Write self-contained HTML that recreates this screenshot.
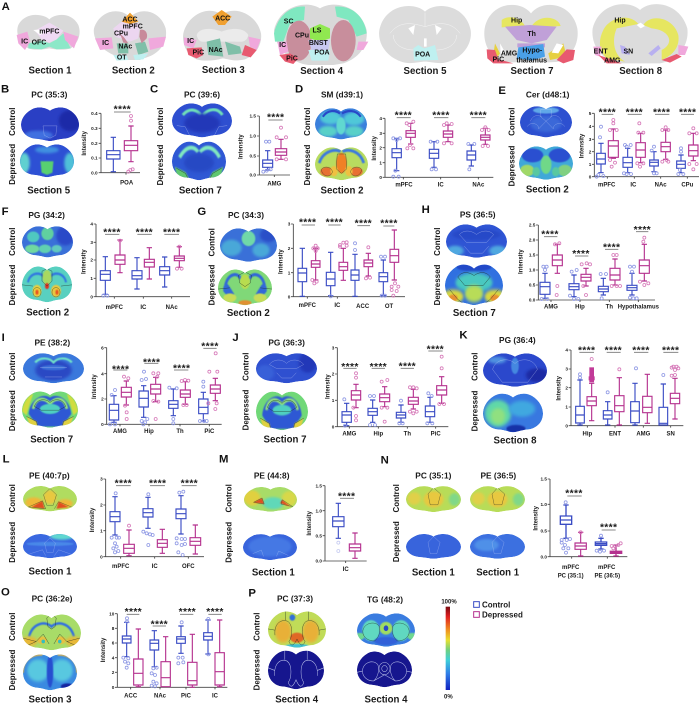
<!DOCTYPE html>
<html><head><meta charset="utf-8"><title>Lipid imaging figure</title>
<style>
html,body{margin:0;padding:0;background:#fff;width:700px;height:703px;overflow:hidden}
svg{display:block;font-family:"Liberation Sans",sans-serif}
text{font-weight:bold;fill:#1a1a1a;text-anchor:middle}
.L{font-size:34px;text-anchor:start;fill:#111}
.S{font-size:29px}
.T{font-size:25px}
.R{font-size:24px}
.X{font-size:18px}
.Y{font-size:14px;text-anchor:end}
.I{font-size:18px}
.A{font-size:31px;letter-spacing:1px}
.N{font-size:21px;fill:#111}
.b path,.m path{fill:none;stroke-width:3.4}
.b path{stroke:#3a4cc4}.m path{stroke:#b5328f}
.b circle,.m circle{r:4.5px;fill:none;stroke-width:2.4}
.b circle{stroke:#8d97e4}.m circle{stroke:#d678b8}
.x{fill:none;stroke:#444;stroke-width:2.6}
.l{fill:none;stroke:#888;stroke-width:3}
.w{fill:none;stroke:#dfe6ff;stroke-width:.5;opacity:.8}
.k{fill:none;stroke:#1c2a20;stroke-width:.6}
.q{fill:none;stroke:#f4f4f4;stroke-width:1.5}
</style></head><body>
<svg width="700" height="703" viewBox="0 0 700 703" xmlns="http://www.w3.org/2000/svg">
<defs>
<path id="s" d="M50 8C58 2 72 0 82 6C95 13 100 24 100 32C100 46 88 55 74 56C62 57 56 60 50 60C44 60 38 57 26 56C12 55 0 46 0 32C0 24 5 13 18 6C28 0 42 2 50 8Z"/>
<clipPath id="c"><use href="#s"/></clipPath>
<filter id="f" x="-30%" y="-30%" width="160%" height="160%"><feGaussianBlur stdDeviation="2.5"/></filter>
<filter id="g" x="-30%" y="-30%" width="160%" height="160%"><feGaussianBlur stdDeviation="1"/></filter>
<linearGradient id="cb" x1="0" y1="0" x2="0" y2="1"><stop offset="0" stop-color="#7a0a10"/><stop offset=".12" stop-color="#e02020"/><stop offset=".28" stop-color="#f09020"/><stop offset=".4" stop-color="#e8e030"/><stop offset=".52" stop-color="#70d080"/><stop offset=".64" stop-color="#40d0d8"/><stop offset=".8" stop-color="#3080e8"/><stop offset="1" stop-color="#1020c0"/></linearGradient>
</defs>

<!-- Section A atlas -->
<g transform="scale(.33333)">
<text class="L" x="5" y="30">A</text>
<path fill="#d9d9d9" d="M148 58C165 40 215 35 235 75C245 100 235 130 212 145C190 152 165 148 148 145C130 148 105 152 85 145C60 130 45 100 55 75C75 35 130 40 148 58Z"/>
<path fill="#8ce8c8" d="M85 130L125 122L148 130L170 118L190 100L212 145L170 148L148 140L125 148L85 145Z"/>
<path fill="#efd9f3" d="M148 68L190 92L170 118L148 128L125 118L105 92Z"/>
<path fill="#fff" d="M100 90L125 88L130 100L120 105Z"/>
<path fill="#f0a8dc" d="M50 105L82 95L90 125L75 150L55 130ZM190 95L235 110L222 145L195 120Z"/>
<text class="N" x="148" y="100">mPFC</text><text class="N" x="74" y="130">IC</text><text class="N" x="117" y="133">OFC</text>
<text class="S" x="150" y="221">Section 1</text>

<path fill="#d9d9d9" d="M390 52C420 20 480 30 497 85C505 130 475 165 430 175L420 180L380 180L370 175C325 165 275 130 282 85C300 30 360 20 390 52Z"/>
<path fill="#ecd6f0" d="M365 65L420 70L415 115L390 125L345 110L340 85Z"/>
<path fill="#f0a030" d="M390 38L415 65L390 72L365 65Z"/>
<path fill="#f0a8dc" d="M285 115L335 112L340 145L300 150ZM445 115L498 110L490 140L450 150Z"/>
<path fill="#7fbfa8" d="M350 130L385 130L385 160L355 160ZM405 130L435 125L445 155L415 165Z"/>
<path fill="#bff0f0" d="M340 165L380 165L385 180L350 182ZM400 165L445 160L430 178L405 180Z"/>
<path fill="#c88a9a" d="M420 90C435 85 445 100 440 115L425 130L418 110ZM360 100L372 112L385 130L370 128Z"/>
<text class="N" x="390" y="65">ACC</text><text class="N" x="398" y="85">mPFC</text><text class="N" x="363" y="106">CPu</text><text class="N" x="317" y="135">IC</text><text class="N" x="376" y="146">NAc</text><text class="N" x="365" y="179">OT</text>
<text class="S" x="400" y="221">Section 2</text>

<path fill="#d9d9d9" d="M665 45C700 15 770 40 783 100C787 130 770 165 735 178C700 185 690 178 668 175C640 182 615 185 590 178C560 165 545 130 550 100C565 40 630 15 665 45Z"/>
<path fill="#ebebeb" d="M590 105C600 80 640 85 665 95C690 85 730 80 745 105C740 130 720 125 705 125L630 125C610 125 595 130 590 105Z"/>
<path fill="#f0a030" d="M665 30L695 50L675 75L655 75L637 50Z"/>
<path fill="#f0a8dc" d="M552 112L590 120L580 145L552 135ZM745 110L782 118L770 150L750 140Z"/>
<path fill="#e85a70" d="M560 145L605 142L610 165L590 175L565 165ZM735 135L770 150L752 172L725 165Z"/>
<path fill="#7fbfa8" d="M620 125L660 115L670 170L625 165ZM675 125L720 140L725 160L685 165Z"/>
<text class="N" x="668" y="62">ACC</text><text class="N" x="572" y="129">IC</text><text class="N" x="595" y="164">PiC</text><text class="N" x="647" y="156">NAc</text>
<text class="S" x="670" y="219">Section 3</text>

<path fill="#d9d9d9" d="M960 25C1000 0 1080 15 1100 90C1105 140 1075 175 1030 190L1000 195L925 195C880 190 825 150 822 90C840 15 920 0 960 25Z"/>
<path fill="#7fe8c0" d="M822 100C835 40 880 15 915 20L912 60L870 70L850 125L825 125ZM1005 20C1060 15 1095 55 1100 100L1070 110L1045 60L1010 50Z"/>
<ellipse cx="897" cy="122" rx="38" ry="60" fill="#c88e9c"/><ellipse cx="1030" cy="122" rx="37" ry="62" fill="#c88e9c"/>
<path fill="#90e850" d="M930 85L960 72L990 85L990 115L960 125L930 115Z"/>
<path fill="#c8c8f0" d="M925 120L990 120L985 150L935 150Z"/>
<path fill="#bff0f0" d="M925 150L990 150L985 182L935 182Z"/>
<path fill="#f0a8dc" d="M832 125L860 125L865 155L840 165ZM1075 125L1105 125L1090 150L1070 150Z"/>
<path fill="#e85a70" d="M838 165L870 160L895 175L880 192L855 185Z"/>
<text class="N" x="866" y="70">SC</text><text class="N" x="906" y="113">CPu</text><text class="N" x="951" y="97">LS</text><text class="N" x="848" y="141">IC</text><text class="N" x="955" y="135">BNST</text><text class="N" x="966" y="164">POA</text><text class="N" x="876" y="181">PiC</text>
<text class="S" x="965" y="222">Section 4</text>
</g>

<g transform="translate(350,0) scale(.33333)">
<path fill="#dcdcdc" d="M225 35C255 5 345 10 362 90C368 130 340 175 285 188C265 192 240 185 225 185C210 185 185 192 165 188C110 175 82 130 88 90C105 10 195 5 225 35Z"/>
<path class="q" d="M120 100C150 60 190 70 225 80C260 70 300 60 330 100M130 105C130 140 170 150 190 150M320 105C320 140 280 150 260 150M225 38V80"/>
<path fill="#bff0f0" d="M190 145L205 135L222 145L240 140L255 135L265 180L192 182Z"/>
<path fill="#fff" d="M175 85L195 75L190 105ZM275 85L255 75L260 105ZM222 115h8v25h-8Z"/>
<text class="N" x="218" y="170">POA</text>
<text class="S" x="225" y="222">Section 5</text>

<path fill="#dcdcdc" d="M543 40C575 -2 665 5 682 85C688 125 670 170 625 185C590 190 560 185 543 180C525 185 495 190 460 185C415 170 398 125 404 85C420 5 510 -2 543 40Z"/>
<path fill="#e6e660" d="M455 60C475 45 510 50 525 78L455 82ZM545 78C570 40 625 50 632 78L560 82Z"/>
<path fill="#c0a0d8" d="M465 80L540 75L620 80L590 120L545 130L500 120Z"/>
<path fill="#c0a0d8" d="M502 130H585V142H502Z"/>
<path fill="#4aa0e8" d="M505 142L580 132L585 170L545 182L500 175Z"/>
<path fill="#e6d040" d="M435 130L450 160L440 175L432 150ZM640 130L650 170L600 180L595 160Z"/>
<path fill="#e85a70" d="M410 148L435 150L445 178L490 190L430 190L412 175ZM620 180L650 148L675 150L670 180L640 190Z"/>
<path fill="#fff" d="M450 130L470 165L452 162ZM620 130L640 135L625 160L605 158Z"/>
<text class="N" x="500" y="68">Hip</text><text class="N" x="545" y="108">Th</text><text class="N" x="547" y="158">Hypo-</text><text class="N" x="545" y="187">thalamus</text><text class="N" x="477" y="167">AMG</text><text class="N" x="445" y="184">PiC</text>
<text class="S" x="546" y="222">Section 7</text>

<path fill="#dcdcdc" d="M870 30C905 -3 990 8 1012 85C1018 130 990 180 930 190L810 190C750 180 722 130 728 85C748 8 835 -3 870 30Z"/>
<path fill="#e6e660" d="M760 90C780 50 840 40 865 72L800 85C785 120 790 165 825 185L770 175C745 150 745 120 760 90ZM880 75C900 40 970 50 985 105C990 140 970 165 935 180L935 150C975 130 960 90 905 85Z"/>
<path fill="#fff" d="M860 75L872 68L885 78L872 85Z"/>
<path fill="#b8b0f0" d="M810 135L825 140L840 165L815 160ZM895 160L925 135L932 145L905 168Z"/>
<path fill="#f0a8dc" d="M730 140L755 140L750 170L735 165ZM985 135L1015 140L1005 165L985 165Z"/>
<path fill="#e85a70" d="M745 165L790 180L815 190L770 190ZM935 180L980 162L995 170L960 188Z"/>
<text class="N" x="810" y="68">Hip</text><text class="N" x="752" y="160">ENT</text><text class="N" x="835" y="160">SN</text><text class="N" x="787" y="187">AMG</text>
<text class="S" x="872" y="222">Section 8</text>
</g>

<!-- Brain images -->
<!-- B -->
<g transform="translate(21,106) scale(.58,.585)" clip-path="url(#c)"><use href="#s" fill="#2a3fc4"/><ellipse cx="85" cy="25" rx="20" ry="18" fill="#1c2aa8" filter="url(#f)"/><ellipse cx="30" cy="50" rx="25" ry="8" fill="#3f6fe0" filter="url(#f)"/><path class="w" d="M38 34L62 34L60 50L50 55L40 50Z"/></g>
<g transform="translate(20,143) scale(.54,.57)" clip-path="url(#c)"><use href="#s" fill="#2d50d4"/><ellipse cx="8" cy="35" rx="10" ry="18" fill="#60d0d0" filter="url(#f)"/><ellipse cx="92" cy="35" rx="10" ry="18" fill="#50c0d8" filter="url(#f)"/><path d="M38 32L62 32L60 52L50 56L40 52Z" fill="#58d070" filter="url(#g)"/><ellipse cx="50" cy="12" rx="22" ry="6" fill="#4090e0" filter="url(#f)"/></g>
<!-- C -->
<g transform="translate(172,102) scale(.6,.59)" clip-path="url(#c)"><use href="#s" fill="#2e4fd0"/><path d="M18 22C30 8 42 14 48 22M52 22C60 12 75 8 84 22" fill="none" stroke="#70e0b8" stroke-width="5" filter="url(#g)"/><ellipse cx="50" cy="36" rx="30" ry="16" fill="#2438b8" filter="url(#f)"/><path class="w" d="M8 40L22 42L30 58M92 40L78 42L70 58"/></g>
<g transform="translate(172,140) scale(.54,.67)" clip-path="url(#c)"><use href="#s" fill="#2f58d4"/><path d="M14 26C28 6 42 10 48 18M52 18C60 10 75 6 88 26" fill="none" stroke="#80e8c0" stroke-width="6" filter="url(#g)"/><ellipse cx="50" cy="34" rx="28" ry="14" fill="#2848c4" filter="url(#f)"/><path d="M5 40L25 48L32 58L10 55ZM95 40L75 48L68 58L90 55Z" fill="#60c870" filter="url(#g)"/><path class="k" d="M8 42L25 50L30 58M92 42L75 50L70 58"/></g>
<!-- D -->
<g transform="translate(315,107) scale(.52,.54)" clip-path="url(#c)"><use href="#s" fill="#3a7fdc"/><ellipse cx="30" cy="20" rx="20" ry="12" fill="#50c8d8" filter="url(#f)"/><ellipse cx="75" cy="22" rx="20" ry="12" fill="#50c8d8" filter="url(#f)"/><ellipse cx="25" cy="45" rx="18" ry="10" fill="#58d0c8" filter="url(#f)"/><ellipse cx="75" cy="45" rx="18" ry="10" fill="#58d0c8" filter="url(#f)"/><ellipse cx="50" cy="35" rx="9" ry="16" fill="#60d8d0" filter="url(#g)"/><path d="M15 18C25 4 40 6 48 12M52 12C62 6 78 4 88 18" fill="none" stroke="#2848c8" stroke-width="4"/></g>
<g transform="translate(315,146) scale(.53,.57)" clip-path="url(#c)"><use href="#s" fill="#b8dc60"/><path d="M8 30C15 8 40 4 48 10M52 10C62 4 85 8 92 30" fill="none" stroke="#3a78e0" stroke-width="5" filter="url(#g)"/><ellipse cx="50" cy="30" rx="10" ry="18" fill="#f08028" filter="url(#g)"/><ellipse cx="22" cy="45" rx="12" ry="8" fill="#e87030" filter="url(#g)"/><ellipse cx="78" cy="45" rx="12" ry="8" fill="#e87030" filter="url(#g)"/><ellipse cx="36" cy="44" rx="7" ry="9" fill="#f0c040" filter="url(#g)"/><ellipse cx="64" cy="44" rx="7" ry="9" fill="#f0c040" filter="url(#g)"/><path class="k" d="M42 14H58L60 40L50 48L40 40ZM12 42C15 35 30 35 33 45C30 56 15 55 12 42ZM67 45C70 35 85 35 88 42C85 55 70 56 67 45Z"/></g>
<!-- E -->
<g transform="translate(520,105) scale(.52,.54)" clip-path="url(#c)"><use href="#s" fill="#2d50d0"/><ellipse cx="50" cy="10" rx="25" ry="6" fill="#60a8e8" filter="url(#g)"/><ellipse cx="50" cy="35" rx="30" ry="15" fill="#3a68d8" filter="url(#f)"/><path class="w" d="M40 8H60L60 22L50 30L40 22ZM14 40C20 30 36 34 36 44M64 44C64 34 80 30 86 40M36 44L50 30L64 44M20 30C25 18 35 18 42 22M58 22C65 18 75 18 80 30"/></g>
<g transform="translate(519,145) scale(.54,.58)" clip-path="url(#c)"><use href="#s" fill="#40a8d8"/><ellipse cx="25" cy="18" rx="20" ry="12" fill="#2a50d0" filter="url(#g)"/><ellipse cx="75" cy="18" rx="20" ry="12" fill="#2a50d0" filter="url(#g)"/><ellipse cx="50" cy="34" rx="10" ry="16" fill="#70d888" filter="url(#g)"/><ellipse cx="15" cy="44" rx="13" ry="10" fill="#a0d868" filter="url(#g)"/><ellipse cx="85" cy="44" rx="13" ry="10" fill="#80d080" filter="url(#g)"/><ellipse cx="32" cy="46" rx="7" ry="8" fill="#58c8a0" filter="url(#g)"/><ellipse cx="68" cy="46" rx="7" ry="8" fill="#58c8a0" filter="url(#g)"/></g>
<!-- F -->
<g transform="translate(22,225) scale(.51,.54)" clip-path="url(#c)"><use href="#s" fill="#3a70d8"/><ellipse cx="85" cy="20" rx="18" ry="18" fill="#2a48c8" filter="url(#f)"/><ellipse cx="50" cy="16" rx="12" ry="12" fill="#60d0a0" filter="url(#g)"/><ellipse cx="22" cy="22" rx="12" ry="10" fill="#50c8c0" filter="url(#g)"/><ellipse cx="20" cy="44" rx="14" ry="8" fill="#70d8a0" filter="url(#g)"/><ellipse cx="45" cy="44" rx="12" ry="8" fill="#60d0b0" filter="url(#g)"/><ellipse cx="68" cy="44" rx="10" ry="7" fill="#60c8c0" filter="url(#g)"/></g>
<g transform="translate(22,265) scale(.5,.62)" clip-path="url(#c)"><use href="#s" fill="#58d0c0"/><path d="M12 28C15 12 38 10 44 20M56 20C62 10 85 12 88 28" fill="none" stroke="#3078e0" stroke-width="4" filter="url(#g)"/><ellipse cx="50" cy="20" rx="9" ry="12" fill="#a8d860" filter="url(#g)"/><ellipse cx="30" cy="42" rx="9" ry="10" fill="#e8d040" filter="url(#g)"/><ellipse cx="68" cy="42" rx="10" ry="10" fill="#e8c840" filter="url(#g)"/><ellipse cx="50" cy="34" rx="4" ry="5" fill="#e03020" filter="url(#g)"/><ellipse cx="70" cy="44" rx="3" ry="4" fill="#e85020" filter="url(#g)"/><ellipse cx="30" cy="44" rx="3" ry="4" fill="#e85020" filter="url(#g)"/><path class="k" d="M40 10L50 6L60 10L60 26L50 34L40 26ZM22 44C22 34 38 34 38 44C38 54 22 54 22 44ZM60 44C60 34 76 34 76 44C76 54 60 54 60 44ZM0 32L22 34M78 34L100 32"/></g>
<!-- G -->
<g transform="translate(220,227) scale(.57,.58)" clip-path="url(#c)"><use href="#s" fill="#3a70d8"/><ellipse cx="50" cy="20" rx="12" ry="13" fill="#70d8a8" filter="url(#g)"/><ellipse cx="20" cy="36" rx="18" ry="14" fill="#48a8d8" filter="url(#f)"/><ellipse cx="72" cy="40" rx="15" ry="12" fill="#48a8d8" filter="url(#f)"/><ellipse cx="85" cy="14" rx="15" ry="12" fill="#2a50c8" filter="url(#f)"/></g>
<g transform="translate(218,268) scale(.54,.62)" clip-path="url(#c)"><use href="#s" fill="#80d878"/><path d="M14 28C18 8 38 6 42 18M58 18C62 6 82 8 86 28" fill="none" stroke="#3068d8" stroke-width="5" filter="url(#g)"/><path d="M10 38C8 28 15 22 20 28L30 42L22 50ZM90 38C92 28 85 22 80 28L70 42L78 50Z" fill="#3068d8" filter="url(#g)"/><ellipse cx="50" cy="22" rx="9" ry="12" fill="#b8dc50" filter="url(#g)"/><ellipse cx="50" cy="56" rx="12" ry="4" fill="#e09030" filter="url(#g)"/><ellipse cx="22" cy="48" rx="12" ry="7" fill="#c8dc58" filter="url(#g)"/><ellipse cx="78" cy="48" rx="12" ry="7" fill="#c8dc58" filter="url(#g)"/><path class="k" d="M38 12L50 6L62 12L60 24L50 30L40 24ZM0 34L22 32M78 32L100 34"/></g>
<!-- H -->
<g transform="translate(446,223) scale(.61,.58)" clip-path="url(#c)"><use href="#s" fill="#2f55d4"/><ellipse cx="50" cy="20" rx="40" ry="10" fill="#2848c8" filter="url(#f)"/><ellipse cx="15" cy="48" rx="14" ry="9" fill="#50a8e0" filter="url(#f)"/><ellipse cx="85" cy="48" rx="14" ry="9" fill="#50a8e0" filter="url(#f)"/><path class="w" d="M22 20C30 10 44 14 50 20C56 14 70 10 78 20L66 34L34 34ZM30 40L40 52L60 52L70 40"/></g>
<g transform="translate(445,263) scale(.58,.7)" clip-path="url(#c)"><use href="#s" fill="#3070e0"/><ellipse cx="50" cy="6" rx="30" ry="6" fill="#2048c8" filter="url(#g)"/><ellipse cx="50" cy="28" rx="32" ry="14" fill="#48c8c0" filter="url(#f)"/><ellipse cx="14" cy="48" rx="18" ry="10" fill="#d8d840" filter="url(#f)"/><ellipse cx="86" cy="48" rx="18" ry="10" fill="#d8d840" filter="url(#f)"/><ellipse cx="50" cy="44" rx="16" ry="12" fill="#b8dc58" filter="url(#f)"/><ellipse cx="14" cy="50" rx="8" ry="5" fill="#e89030" filter="url(#g)"/><ellipse cx="86" cy="50" rx="8" ry="5" fill="#e89030" filter="url(#g)"/><path class="k" d="M22 20C30 10 44 14 50 18C56 14 70 10 78 20L66 32L34 32ZM8 38L22 52L32 58M92 38L78 52L68 58"/></g>
<!-- I -->
<g transform="translate(23,352) scale(.61,.52)" clip-path="url(#c)"><use href="#s" fill="#3a78dc"/><ellipse cx="50" cy="35" rx="30" ry="20" fill="#2a48c4" filter="url(#f)"/><path d="M20 20C30 8 44 12 50 20C56 12 70 8 80 20" fill="none" stroke="#70e0c8" stroke-width="4" filter="url(#g)"/><ellipse cx="50" cy="30" rx="20" ry="5" fill="#3a70d8" filter="url(#g)"/><path class="w" d="M28 30L72 30M36 48L64 48"/></g>
<g transform="translate(22,390) scale(.56,.63)" clip-path="url(#c)"><use href="#s" fill="#70d878"/><path d="M12 38C14 14 38 4 50 12C62 4 86 14 88 38L72 58L28 58Z" fill="#2e58d4" filter="url(#g)"/><path d="M20 30C24 10 42 12 50 22C58 12 76 10 80 30" fill="none" stroke="#90e080" stroke-width="5" filter="url(#g)"/><ellipse cx="50" cy="30" rx="18" ry="8" fill="#50d0c0" filter="url(#g)"/><path d="M0 34C2 20 10 10 20 6L14 22L8 40ZM100 34C98 20 90 10 80 6L86 22L92 40Z" fill="#d0dc40" filter="url(#g)"/><path d="M8 42L26 50L28 58L14 56ZM92 42L74 50L72 58L86 56Z" fill="#e0d040" filter="url(#g)"/><path class="k" d="M22 26C28 12 44 14 50 20C56 14 72 12 78 26L66 32L34 32ZM8 42L26 50L28 58M92 42L74 50L72 58"/></g>
<!-- J -->
<g transform="translate(256,352) scale(.61,.52)" clip-path="url(#c)"><use href="#s" fill="#2f50d0"/><ellipse cx="85" cy="20" rx="15" ry="20" fill="#2438b8" filter="url(#f)"/><ellipse cx="15" cy="40" rx="15" ry="15" fill="#3860d8" filter="url(#f)"/><path class="w" d="M22 24C30 12 44 14 50 22C56 14 70 12 78 24L66 32L34 32ZM34 40L42 50L58 50L66 40"/></g>
<g transform="translate(256,390) scale(.52,.67)" clip-path="url(#c)"><use href="#s" fill="#70d878"/><path d="M12 38C14 14 38 4 50 12C62 4 86 14 88 38L72 58L28 58Z" fill="#2e58d4" filter="url(#g)"/><path d="M20 30C24 10 42 12 50 22C58 12 76 10 80 30" fill="none" stroke="#90e080" stroke-width="5" filter="url(#g)"/><ellipse cx="50" cy="30" rx="18" ry="8" fill="#50d0c0" filter="url(#g)"/><path d="M8 42L26 50L28 58L14 56ZM92 42L74 50L72 58L86 56Z" fill="#e0d040" filter="url(#g)"/><path class="k" d="M22 26C28 12 44 14 50 20C56 14 72 12 78 26L66 32L34 32ZM8 42L26 50L28 58M92 42L74 50L72 58"/></g>
<!-- K -->
<g transform="translate(483,352) scale(.64,.58)" clip-path="url(#c)"><use href="#s" fill="#2b48cc"/><ellipse cx="85" cy="40" rx="18" ry="12" fill="#1c2aa4" filter="url(#f)"/><ellipse cx="22" cy="14" rx="14" ry="6" fill="#5090e0" filter="url(#f)"/><ellipse cx="50" cy="24" rx="6" ry="14" fill="#4488e0" filter="url(#g)"/><path class="w" d="M15 30C20 10 42 10 50 20C58 10 80 10 85 30L70 52L30 52Z"/></g>
<g transform="translate(483,392) scale(.6,.67)" clip-path="url(#c)"><use href="#s" fill="#3878e0"/><ellipse cx="25" cy="32" rx="22" ry="20" fill="#60d8a8" filter="url(#f)"/><ellipse cx="25" cy="36" rx="12" ry="12" fill="#90e080" filter="url(#f)"/><ellipse cx="65" cy="25" rx="22" ry="12" fill="#40a8e0" filter="url(#f)"/><ellipse cx="55" cy="55" rx="16" ry="6" fill="#1830a8" filter="url(#g)"/></g>
<!-- L -->
<g transform="translate(23,485) scale(.54,.44)" clip-path="url(#c)"><use href="#s" fill="#b0dc60"/><ellipse cx="20" cy="40" rx="16" ry="12" fill="#f0b838" filter="url(#f)"/><ellipse cx="78" cy="42" rx="14" ry="10" fill="#f0b838" filter="url(#f)"/><path d="M16 50L36 36L40 54ZM84 50L66 38L62 54Z" fill="#e05020" filter="url(#g)"/><ellipse cx="50" cy="28" rx="12" ry="16" fill="#e8c840" filter="url(#f)"/><path class="k" d="M50 8L62 22L56 46L44 46L38 22ZM10 50L36 36L42 54ZM90 50L66 38L58 54"/></g>
<g transform="translate(23,533) scale(.54,.42)" clip-path="url(#c)"><use href="#s" fill="#3a68e0"/><ellipse cx="72" cy="8" rx="22" ry="8" fill="#60d8d0" filter="url(#f)"/><ellipse cx="50" cy="26" rx="44" ry="5" fill="#4a88e8" filter="url(#g)"/><path class="w" d="M50 12L60 24L56 46L44 46L40 24ZM12 50L36 40L42 54M88 50L66 40L58 54"/></g>
<!-- M -->
<g transform="translate(244,486) scale(.53,.43)" clip-path="url(#c)"><use href="#s" fill="#a8dc68"/><ellipse cx="15" cy="28" rx="16" ry="18" fill="#e0d040" filter="url(#f)"/><ellipse cx="85" cy="30" rx="14" ry="18" fill="#d8d848" filter="url(#f)"/><ellipse cx="55" cy="40" rx="20" ry="14" fill="#60d8b8" filter="url(#f)"/><path d="M18 38L34 28L38 42ZM88 48L72 32L68 40Z" fill="#e05020" filter="url(#g)"/><path class="k" d="M18 38L34 28L38 42ZM92 48L72 32L70 42Z"/></g>
<g transform="translate(243,533) scale(.54,.45)" clip-path="url(#c)"><use href="#s" fill="#3864dc"/><ellipse cx="50" cy="30" rx="40" ry="22" fill="#4478e4" filter="url(#f)"/><path class="w" d="M18 46L34 38L38 52M84 50L66 40L62 52"/></g>
<!-- N -->
<g transform="translate(406,485) scale(.55,.45)" clip-path="url(#c)"><use href="#s" fill="#b8dc58"/><ellipse cx="50" cy="32" rx="18" ry="18" fill="#e8c840" filter="url(#f)"/><ellipse cx="15" cy="30" rx="12" ry="14" fill="#e0d048" filter="url(#f)"/><ellipse cx="88" cy="32" rx="10" ry="14" fill="#80d888" filter="url(#f)"/><path class="k" d="M50 6L63 20L58 44L44 44L40 20Z"/></g>
<g transform="translate(470,485) scale(.55,.45)" clip-path="url(#c)"><use href="#s" fill="#b8dc58"/><ellipse cx="50" cy="32" rx="18" ry="18" fill="#e8c840" filter="url(#f)"/><ellipse cx="15" cy="30" rx="12" ry="14" fill="#e0d048" filter="url(#f)"/><ellipse cx="88" cy="32" rx="10" ry="14" fill="#80d888" filter="url(#f)"/><path class="k" d="M50 6L63 20L58 44L44 44L40 20Z"/></g>
<g transform="translate(406,533) scale(.55,.43)" clip-path="url(#c)"><use href="#s" fill="#3864dc"/><path class="w" d="M50 8L62 22L56 48L44 48L40 22Z"/></g>
<g transform="translate(470,533) scale(.55,.43)" clip-path="url(#c)"><use href="#s" fill="#3c70e0"/><ellipse cx="30" cy="28" rx="22" ry="14" fill="#5090e8" filter="url(#f)"/><path class="w" d="M50 8L62 22L56 48L44 48L40 22Z"/></g>
<!-- O -->
<g transform="translate(22,613) scale(.59,.62)" clip-path="url(#c)"><use href="#s" fill="#a8dc68"/><path d="M12 38C18 16 40 12 50 22C60 12 82 16 88 38" fill="none" stroke="#3070e0" stroke-width="4" filter="url(#g)"/><ellipse cx="12" cy="46" rx="14" ry="8" fill="#e8b838" filter="url(#f)"/><ellipse cx="88" cy="46" rx="14" ry="8" fill="#e8b838" filter="url(#f)"/><ellipse cx="34" cy="44" rx="8" ry="6" fill="#e8c040" filter="url(#g)"/><ellipse cx="66" cy="44" rx="8" ry="6" fill="#e8c040" filter="url(#g)"/><ellipse cx="36" cy="46" rx="3" ry="3" fill="#30c0c0"/><ellipse cx="64" cy="46" rx="3" ry="3" fill="#30c0c0"/><path class="k" d="M42 8L50 2L58 8L56 22L50 26L44 22ZM0 40L24 46L36 34L46 50M100 40L76 46L64 34L54 50M10 52L24 46M90 52L76 46"/></g>
<g transform="translate(23,653) scale(.54,.62)" clip-path="url(#c)"><use href="#s" fill="#3a8ae0"/><ellipse cx="28" cy="28" rx="20" ry="18" fill="#58c8e0" filter="url(#f)"/><ellipse cx="72" cy="28" rx="20" ry="18" fill="#58c8e0" filter="url(#f)"/><ellipse cx="50" cy="30" rx="6" ry="26" fill="#2850d0" filter="url(#g)"/><path d="M0 32C0 10 18 2 36 3M100 32C100 10 82 2 64 3" fill="none" stroke="#d8b050" stroke-width="3" filter="url(#g)"/><ellipse cx="82" cy="54" rx="12" ry="5" fill="#1828a0" filter="url(#g)"/></g>
<!-- P -->
<g transform="translate(268,610) scale(.58,.63)" clip-path="url(#c)"><use href="#s" fill="#c0dc58"/><ellipse cx="26" cy="34" rx="14" ry="18" fill="#e8b038" filter="url(#f)"/><ellipse cx="74" cy="34" rx="14" ry="18" fill="#e8b038" filter="url(#f)"/><ellipse cx="50" cy="44" rx="12" ry="8" fill="#e06828" filter="url(#g)"/><ellipse cx="42" cy="12" rx="5" ry="5" fill="#3070d8" filter="url(#g)"/><ellipse cx="50" cy="57" rx="20" ry="3" fill="#40c0d8" filter="url(#g)"/><path class="k" d="M12 40C10 20 24 14 34 18C44 24 42 44 36 50M88 40C90 20 76 14 66 18C56 24 58 44 64 50M0 30L12 32M88 32L100 30M30 2V16M70 2V16M36 50C40 58 44 58 50 46C56 58 60 58 64 50"/></g>
<g transform="translate(268,649) scale(.56,.67)" clip-path="url(#c)"><use href="#s" fill="#16168e"/><path class="w" style="stroke-width:.9" d="M12 40C10 20 24 14 34 18C44 24 42 44 36 50M88 40C90 20 76 14 66 18C56 24 58 44 64 50M0 28L12 32M88 32L100 28M30 2V16M70 2V16M36 50C40 58 44 58 50 46C56 58 60 58 64 50"/></g>
<!-- TG -->
<g transform="translate(357,612) scale(.58,.58)" clip-path="url(#c)"><use href="#s" fill="#3a7ce0"/><ellipse cx="24" cy="32" rx="15" ry="18" fill="#60d8c0" filter="url(#g)"/><ellipse cx="76" cy="32" rx="15" ry="18" fill="#60d8c0" filter="url(#g)"/><ellipse cx="50" cy="28" rx="11" ry="11" fill="#a0dc60" filter="url(#g)"/><ellipse cx="50" cy="28" rx="4" ry="5" fill="#2a48c8"/><ellipse cx="50" cy="50" rx="20" ry="7" fill="#3060d8" filter="url(#g)"/><ellipse cx="5" cy="42" rx="8" ry="6" fill="#70d890" filter="url(#g)"/><ellipse cx="95" cy="42" rx="8" ry="6" fill="#70d890" filter="url(#g)"/><path class="k" d="M10 34C10 20 30 14 38 24C42 34 36 46 30 50C20 50 10 44 10 34ZM90 34C90 20 70 14 62 24C58 34 64 46 70 50C80 50 90 44 90 34Z"/></g>
<g transform="translate(357,650) scale(.55,.62)" clip-path="url(#c)"><use href="#s" fill="#16168e"/><path class="w" style="stroke-width:.9" d="M10 34C10 20 30 14 38 24C42 34 36 46 30 50C20 50 10 44 10 34ZM90 34C90 20 70 14 62 24C58 34 64 46 70 50C80 50 90 44 90 34ZM30 50L50 40L70 50M0 36L10 34M90 34L100 36"/><circle class="w" style="stroke-width:.9" cx="50" cy="30" r="5"/><circle class="w" style="stroke-width:.9" cx="50" cy="30" r="10"/></g>

<!-- B, C -->
<g transform="translate(0,80) scale(.33333)">
<text class="L" x="3" y="38">B</text><text class="L" x="450" y="38">C</text><text class="L" x="885" y="38">D</text>
<text class="T" x="148" y="52">PC (35:3)</text><text class="T" x="606" y="52">PC (39:6)</text>
<text class="R" transform="translate(45,125) rotate(-90)">Control</text><text class="R" transform="translate(45,253) rotate(-90)">Depressed</text>
<text class="R" transform="translate(489,125) rotate(-90)">Control</text><text class="R" transform="translate(489,255) rotate(-90)">Depressed</text>
<text class="S" x="146" y="340">Section 5</text><text class="S" x="601" y="340">Section 7</text>
<path class="x" d="M303 100V278H420M296 100h7M296 145h7M296 190h7M296 234h7M296 278h7M378 278v6"/>
<g class="Y"><text class="Y" x="293" y="105">0.4</text><text class="Y" x="293" y="150">0.3</text><text class="Y" x="293" y="195">0.2</text><text class="Y" x="293" y="239">0.1</text><text class="Y" x="293" y="283">0.0</text></g>
<g class="b"><path d="M340 172V212M320 212h40V237h-40ZM320 224h40M340 237V275M332 172h16M332 275h16"/></g>
<g class="m"><path d="M393 138V182M373 182h40V212h-40ZM373 196h40M393 212V245M385 138h16M385 245h16"/><circle cx="393" cy="108"/><circle cx="393" cy="122"/><circle cx="385" cy="275"/><circle cx="398" cy="268"/><circle cx="391" cy="270"/></g>
<path class="l" d="M342 96H392"/><text class="A" x="367" y="98">****</text>
<text class="X" x="380" y="313">POA</text><text class="I" transform="translate(258,190) rotate(-90)">Intensity</text>
<path class="x" d="M778 108V285H870M771 108h7M771 168h7M771 228h7M771 285h7M823 285v6"/>
<text class="Y" x="768" y="113">1.5</text><text class="Y" x="768" y="173">1.0</text><text class="Y" x="768" y="233">0.5</text><text class="Y" x="768" y="290">0.0</text>
<g class="b"><path d="M803 212V240M788 240h30V262h-30ZM788 250h30M803 262V270M795 212h16M795 270h16"/><circle cx="798" cy="185"/><circle cx="808" cy="185"/><circle cx="790" cy="275"/><circle cx="800" cy="272"/><circle cx="812" cy="268"/></g>
<g class="m"><path d="M843 178V206M826 206h34V226h-34ZM826 216h34M843 226V238M835 178h16M835 238h16"/><circle cx="843" cy="143"/><circle cx="830" cy="172"/><circle cx="858" cy="172"/><circle cx="830" cy="238"/><circle cx="858" cy="238"/></g>
<path class="l" d="M805 120H848"/><text class="A" x="827" y="122">****</text>
<text class="X" x="823" y="317">AMG</text><text class="I" transform="translate(727,200) rotate(-90)">Intensity</text>
</g>

<!-- D, E -->
<g transform="translate(350,80) scale(.33333)">
<text class="L" x="445" y="42">E</text>
<text class="T" x="-24" y="52">SM (d39:1)</text><text class="T" x="593" y="52">Cer (d48:1)</text>
<text class="R" transform="translate(-120,125) rotate(-90)">Control</text><text class="R" transform="translate(-120,255) rotate(-90)">Depressed</text>
<text class="R" transform="translate(493,125) rotate(-90)">Control</text><text class="R" transform="translate(493,258) rotate(-90)">Depressed</text>
<text class="S" x="-24" y="340">Section 2</text><text class="S" x="592" y="338">Section 2</text>
<path class="x" d="M105 115V292H430M98 115h7M98 160h7M98 203h7M98 248h7M98 292h7M160 292v6M272 292v6M385 292v6"/>
<text class="Y" x="96" y="120">4</text><text class="Y" x="96" y="165">3</text><text class="Y" x="96" y="208">2</text><text class="Y" x="96" y="253">1</text><text class="Y" x="96" y="297">0</text>
<g class="b"><path d="M140 175V206M126 206h28V233h-28ZM126 218h28M140 233V272M132 175h16M132 272h16"/><circle cx="130" cy="175"/><circle cx="150" cy="175"/><circle cx="140" cy="180"/><circle cx="136" cy="272"/><circle cx="130" cy="290"/><circle cx="146" cy="290"/>
<path d="M252 185V208M238 208h28V235h-28ZM238 220h28M252 235V262M244 185h16M244 262h16"/><circle cx="242" cy="185"/><circle cx="262" cy="185"/><circle cx="245" cy="268"/><circle cx="258" cy="268"/>
<path d="M364 195V213M351 213h26V240h-26ZM351 225h26M364 240V258M356 195h16M356 258h16"/><circle cx="355" cy="192"/><circle cx="373" cy="192"/><circle cx="358" cy="268"/></g>
<g class="m"><path d="M182 130V152M168 152h28V172h-28ZM168 160h28M182 172V192M174 130h16M174 192h16"/><circle cx="170" cy="130"/><circle cx="190" cy="125"/><circle cx="178" cy="135"/><circle cx="172" cy="205"/><circle cx="190" cy="205"/><circle cx="180" cy="195"/>
<path d="M294 135V153M280 153h28V172h-28ZM280 162h28M294 172V185M286 135h16M286 185h16"/><circle cx="282" cy="135"/><circle cx="305" cy="132"/><circle cx="290" cy="130"/><circle cx="282" cy="190"/><circle cx="305" cy="190"/>
<path d="M406 145V165M392 165h28V180h-28ZM392 172h28M406 180V193M398 145h16M398 193h16"/><circle cx="396" cy="150"/><circle cx="416" cy="150"/><circle cx="406" cy="142"/><circle cx="398" cy="198"/><circle cx="414" cy="198"/></g>
<path class="l" d="M140 113H182M252 113H295M364 113H406"/><text class="A" x="160" y="115">****</text><text class="A" x="273" y="115">****</text><text class="A" x="385" y="115">****</text>
<text class="X" x="162" y="319">mPFC</text><text class="X" x="272" y="319">IC</text><text class="X" x="385" y="319">NAc</text><text class="I" transform="translate(78,205) rotate(-90)">Intensity</text>

<path class="x" d="M733 100V290H1047M726 100h7M726 139h7M726 178h7M726 215h7M726 253h7M726 290h7M772 290v6M853 290v6M932 290v6M1012 290v6"/>
<text class="Y" x="724" y="105">5</text><text class="Y" x="724" y="144">4</text><text class="Y" x="724" y="183">3</text><text class="Y" x="724" y="220">2</text><text class="Y" x="724" y="258">1</text><text class="Y" x="724" y="295">0</text>
<g class="b"><path d="M753 190V220M740 220h26V252h-26ZM740 237h26M753 252V278M745 190h16M745 278h16"/><circle cx="753" cy="140"/><circle cx="750" cy="172"/><circle cx="745" cy="285"/><circle cx="760" cy="288"/><circle cx="740" cy="290"/>
<path d="M833 205V232M819 232h28V262h-28ZM819 248h28M833 262V278M825 205h16M825 278h16"/><circle cx="825" cy="195"/><circle cx="842" cy="195"/><circle cx="830" cy="200"/><circle cx="830" cy="282"/><circle cx="843" cy="282"/><circle cx="822" cy="280"/>
<path d="M912 215V240M899 240h26V258h-26ZM899 247h26M912 258V275M904 215h16M904 275h16"/><circle cx="905" cy="212"/><circle cx="912" cy="200"/><circle cx="912" cy="280"/><circle cx="920" cy="280"/>
<path d="M993 225V243M980 243h26V265h-26ZM980 253h26M993 265V278M985 225h16M985 278h16"/><circle cx="993" cy="205"/><circle cx="993" cy="215"/><circle cx="985" cy="282"/><circle cx="1000" cy="282"/><circle cx="990" cy="270"/></g>
<g class="m"><path d="M790 147V182M775 182h30V232h-30ZM775 198h30M790 232V235M782 147h16M782 235h16"/><circle cx="790" cy="120"/><circle cx="790" cy="130"/><circle cx="780" cy="150"/><circle cx="800" cy="150"/><circle cx="780" cy="240"/><circle cx="795" cy="248"/><circle cx="785" cy="260"/>
<path d="M872 160V188M858 188h28V232h-28ZM858 210h28M872 232V248M864 160h16M864 248h16"/><circle cx="868" cy="130"/><circle cx="865" cy="158"/><circle cx="880" cy="158"/><circle cx="862" cy="250"/><circle cx="880" cy="250"/><circle cx="870" cy="260"/>
<path d="M947 150V187M933 187h28V215h-28ZM933 200h28M947 215V238M939 150h16M939 238h16"/><circle cx="947" cy="142"/><circle cx="937" cy="150"/><circle cx="955" cy="150"/><circle cx="937" cy="245"/><circle cx="955" cy="245"/><circle cx="950" cy="240"/>
<path d="M1030 160V195M1016 195h28V228h-28ZM1016 212h28M1030 228V242M1022 160h16M1022 242h16"/><circle cx="1030" cy="145"/><circle cx="1018" cy="160"/><circle cx="1040" cy="160"/><circle cx="1018" cy="252"/><circle cx="1030" cy="268"/><circle cx="1040" cy="252"/></g>
<path class="l" d="M755 103H790M833 103H875M915 103H958M993 103H1032"/><text class="A" x="772" y="106">****</text><text class="A" x="853" y="106">****</text><text class="A" x="935" y="106">****</text><text class="A" x="1013" y="106">****</text>
<text class="X" x="770" y="319">mPFC</text><text class="X" x="850" y="319">IC</text><text class="X" x="932" y="319">NAc</text><text class="X" x="1012" y="319">CPu</text><text class="I" transform="translate(700,198) rotate(-90)">Intensity</text>
</g>

<!-- F, G -->
<g transform="translate(0,205) scale(.33333)">
<text class="L" x="5" y="30">F</text><text class="L" x="592" y="30">G</text>
<text class="T" x="140" y="39">PG (34:2)</text><text class="T" x="738" y="39">PC (34:3)</text>
<text class="R" transform="translate(45,110) rotate(-90)">Control</text><text class="R" transform="translate(45,240) rotate(-90)">Depressed</text>
<text class="R" transform="translate(644,112) rotate(-90)">Control</text><text class="R" transform="translate(644,240) rotate(-90)">Depressed</text>
<text class="S" x="143" y="331">Section 2</text><text class="S" x="745" y="333">Section 2</text>
<path class="x" d="M288 57V275H570M281 57h7M281 112h7M281 165h7M281 220h7M281 275h7M343 275v6M430 275v6M515 275v6"/>
<text class="Y" x="279" y="62">4</text><text class="Y" x="279" y="117">3</text><text class="Y" x="279" y="170">2</text><text class="Y" x="279" y="225">1</text><text class="Y" x="279" y="280">0</text>
<g class="b"><path d="M316 155V197M301 197h30V226h-30ZM301 208h30M316 226V268M308 155h16M308 268h16"/><circle cx="310" cy="272"/><circle cx="322" cy="272"/>
<path d="M411 158V197M396 197h30V222h-30ZM396 212h30M411 222V252M403 158h16M403 252h16"/>
<path d="M494 156V185M479 185h30V210h-30ZM479 197h30M494 210V246M486 156h16M486 246h16"/></g>
<g class="m"><path d="M360 105V150M345 150h30V178h-30ZM345 165h30M360 178V203M352 105h16M352 203h16"/><circle cx="360" cy="107"/>
<path d="M448 128V163M433 163h30V186h-30ZM433 172h30M448 186V222M440 128h16M440 222h16"/>
<path d="M538 125V153M523 153h30V167h-30ZM523 160h30M538 167V187M530 125h16M530 187h16"/><circle cx="538" cy="125"/><circle cx="531" cy="191"/><circle cx="545" cy="191"/></g>
<path class="l" d="M315 88H358M412 88H455M493 88H537"/><text class="A" x="336" y="92">****</text><text class="A" x="433" y="92">****</text><text class="A" x="515" y="92">****</text>
<text class="X" x="343" y="312">mPFC</text><text class="X" x="430" y="312">IC</text><text class="X" x="515" y="312">NAc</text><text class="I" transform="translate(256,170) rotate(-90)">Intensity</text>

<path class="x" d="M880 57V275H1215M873 57h7M873 130h7M873 203h7M873 275h7M922 275v6M1012 275v6"/>
<text class="Y" x="871" y="62">3</text><text class="Y" x="871" y="135">2</text><text class="Y" x="871" y="208">1</text><text class="Y" x="871" y="280">0</text>
<g class="b"><path d="M907 130V190M894 190h26V230h-26ZM894 204h26M907 230V274M899 130h16M899 274h16"/>
<path d="M992 142V202M979 202h26V242h-26ZM979 222h26M992 242V272M984 142h16M984 272h16"/><circle cx="992" cy="274"/></g>
<g class="m"><path d="M947 130V167M934 167h26V187h-26ZM934 177h26M947 187V225M939 130h16M939 225h16"/><circle cx="947" cy="122"/><circle cx="940" cy="130"/><circle cx="953" cy="130"/><circle cx="947" cy="138"/><circle cx="937" cy="225"/><circle cx="950" cy="230"/><circle cx="943" cy="235"/>
<path d="M1030 130V172M1017 172h26V196h-26ZM1017 185h26M1030 196V226M1022 130h16M1022 226h16"/><circle cx="1020" cy="120"/><circle cx="1030" cy="113"/><circle cx="1040" cy="112"/><circle cx="1020" cy="125"/><circle cx="1040" cy="122"/></g>
<path class="l" d="M905 60H945M985 60H1022"/><text class="A" x="923" y="62">****</text><text class="A" x="1003" y="62">****</text>
<text class="X" x="922" y="306">mPFC</text><text class="X" x="1012" y="306">IC</text><text class="I" transform="translate(848,170) rotate(-90)">Intensity</text>
</g>

<!-- G right, H -->
<g transform="translate(350,205) scale(.33333)">
<text class="L" x="215" y="24">H</text>
<text class="T" x="383" y="38">PS (36:5)</text>
<text class="R" transform="translate(270,110) rotate(-90)">Control</text><text class="R" transform="translate(270,240) rotate(-90)">Depressed</text>
<text class="S" x="373" y="333">Section 7</text>
<g class="b"><path d="M15 148V195M3 195h24V226H3ZM3 210h24M15 226V274M7 148h16M7 274h16"/><circle cx="15" cy="115"/><circle cx="15" cy="135"/>
<path d="M100 165V203M87 203h26V230H87ZM87 215h26M100 230V272M92 165h16M92 272h16"/><circle cx="93" cy="155"/><circle cx="105" cy="155"/><circle cx="95" cy="272"/><circle cx="105" cy="272"/></g>
<g class="m"><path d="M55 145V165M42 165h26V185H42ZM42 174h26M55 185V213M47 145h16M47 213h16"/><circle cx="55" cy="127"/><circle cx="48" cy="220"/><circle cx="60" cy="218"/>
<path d="M133 75V133M120 133h26V172h-26ZM120 152h26M133 172V225M125 75h16M125 225h16"/><circle cx="125" cy="245"/><circle cx="135" cy="235"/><circle cx="145" cy="245"/><circle cx="125" cy="255"/><circle cx="140" cy="258"/><circle cx="130" cy="272"/></g>
<path class="l" d="M22 62H60M100 63H133"/><text class="A" x="40" y="64">****</text><text class="A" x="117" y="65">****</text>
<text class="X" x="38" y="309">ACC</text><text class="X" x="117" y="309">OT</text>
<path class="x" d="M565 60V285H915M558 60h7M558 105h7M558 150h7M558 195h7M558 240h7M558 285h7M603 285v6M690 285v6M778 285v6M865 285v6"/>
<text class="Y" x="556" y="64">2.5</text><text class="Y" x="556" y="110">2.0</text><text class="Y" x="556" y="155">1.5</text><text class="Y" x="556" y="200">1.0</text><text class="Y" x="556" y="245">0.5</text><text class="Y" x="556" y="290">0.0</text>
<g class="b"><path d="M585 205V232M570 232h30V268h-30ZM570 245h30M585 268V280M577 205h16M577 280h16"/><circle cx="580" cy="185"/><circle cx="590" cy="185"/><circle cx="585" cy="195"/><circle cx="575" cy="282"/><circle cx="592" cy="282"/>
<path d="M672 210V236M657 236h30V254h-30ZM657 245h30M672 254V275M664 210h16M664 275h16"/><circle cx="665" cy="200"/><circle cx="680" cy="195"/><circle cx="660" cy="272"/><circle cx="672" cy="282"/><circle cx="685" cy="282"/>
<path d="M760 220V244M745 244h30V260h-30ZM745 252h30M760 260V270M752 220h16M752 270h16"/><circle cx="752" cy="207"/><circle cx="768" cy="207"/><circle cx="755" cy="280"/>
<path d="M846 205V241M831 241h30V256h-30ZM831 248h30M846 256V270M838 205h16M838 270h16"/><circle cx="840" cy="185"/><circle cx="852" cy="185"/><circle cx="846" cy="200"/><circle cx="840" cy="278"/><circle cx="850" cy="280"/><circle cx="860" cy="280"/></g>
<g class="m"><path d="M622 118V150M607 150h30V182h-30ZM607 165h30M622 182V205M614 118h16M614 205h16"/><circle cx="628" cy="115"/><circle cx="615" cy="118"/><circle cx="622" cy="243"/><circle cx="620" cy="270"/>
<path d="M708 190V208M693 208h30V228h-30ZM693 217h30M708 228V243M700 190h16M700 243h16"/><circle cx="695" cy="178"/><circle cx="710" cy="175"/><circle cx="720" cy="178"/><circle cx="708" cy="270"/><circle cx="700" cy="243"/>
<path d="M795 162V190M780 190h30V225h-30ZM780 210h30M795 225V240M787 162h16M787 240h16"/><circle cx="790" cy="150"/><circle cx="800" cy="150"/><circle cx="785" cy="243"/><circle cx="800" cy="243"/><circle cx="810" cy="243"/>
<path d="M883 118V165M868 165h30V205h-30ZM868 182h30M883 205V228M875 118h16M875 228h16"/><circle cx="883" cy="98"/><circle cx="880" cy="110"/><circle cx="870" cy="230"/><circle cx="883" cy="240"/><circle cx="895" cy="235"/></g>
<path class="l" d="M582 95H622M675 153H715M765 133H805M858 80H895"/><text class="A" x="600" y="98">****</text><text class="A" x="693" y="156">****</text><text class="A" x="785" y="136">****</text><text class="A" x="877" y="84">****</text>
<text class="X" x="603" y="311">AMG</text><text class="X" x="690" y="311">Hip</text><text class="X" x="778" y="311">Th</text><text class="X" x="865" y="311">Hypothalamus</text><text class="I" transform="translate(518,170) rotate(-90)">Intensity</text>
</g>

<!-- I -->
<g transform="translate(0,335) scale(.33333)">
<text class="L" x="5" y="18">I</text><text class="L" x="697" y="18">J</text><text class="L" x="8" y="382">L</text><text class="L" x="657" y="382">M</text>
<text class="T" x="157" y="32">PE (38:2)</text><text class="T" x="860" y="32">PG (36:3)</text>
<text class="R" transform="translate(45,95) rotate(-90)">Control</text><text class="R" transform="translate(45,227) rotate(-90)">Depressed</text>
<text class="R" transform="translate(745,95) rotate(-90)">Control</text><text class="R" transform="translate(745,225) rotate(-90)">Depressed</text>
<text class="S" x="155" y="323">Section 7</text><text class="S" x="855" y="323">Section 7</text>
<path class="x" d="M320 38V268H665M313 38h7M313 116h7M313 192h7M313 268h7M360 268v6M447 268v6M540 268v6M628 268v6"/>
<text class="Y" x="311" y="43">6</text><text class="Y" x="311" y="121">4</text><text class="Y" x="311" y="197">2</text><text class="Y" x="311" y="273">0</text>
<g class="b"><path d="M342 182V208M328 208h28V255h-28ZM328 226h28M342 255V262M334 182h16M334 262h16"/><circle cx="345" cy="165"/><circle cx="335" cy="180"/><circle cx="330" cy="268"/><circle cx="345" cy="268"/>
<path d="M431 152V168M417 168h28V216h-28ZM417 190h28M431 216V247M423 152h16M423 247h16"/><circle cx="432" cy="110"/><circle cx="425" cy="135"/><circle cx="438" cy="132"/><circle cx="425" cy="258"/><circle cx="435" cy="262"/><circle cx="442" cy="252"/><circle cx="430" cy="268"/>
<path d="M520 162V197M506 197h28V220h-28ZM506 208h28M520 220V242M512 162h16M512 242h16"/><circle cx="508" cy="158"/><circle cx="530" cy="160"/><circle cx="520" cy="252"/><circle cx="520" cy="265"/>
<path d="M610 172V192M596 192h28V236h-28ZM596 217h28M610 236V258M602 172h16M602 258h16"/><circle cx="610" cy="140"/><circle cx="610" cy="155"/><circle cx="600" cy="258"/><circle cx="612" cy="258"/><circle cx="620" cy="258"/></g>
<g class="m"><path d="M379 138V157M364 157h30V186h-30ZM364 172h30M379 186V210M371 138h16M371 210h16"/><circle cx="372" cy="125"/><circle cx="385" cy="130"/><circle cx="375" cy="212"/><circle cx="380" cy="232"/><circle cx="380" cy="252"/>
<path d="M467 127V148M452 148h30V177h-30ZM452 162h30M467 177V200M459 127h16M459 200h16"/><circle cx="460" cy="115"/><circle cx="475" cy="115"/><circle cx="472" cy="125"/><circle cx="460" cy="198"/><circle cx="475" cy="200"/><circle cx="467" cy="252"/>
<path d="M556 140V165M541 165h30V187h-30ZM541 177h30M556 187V208M548 140h16M548 208h16"/><circle cx="545" cy="138"/><circle cx="555" cy="135"/><circle cx="565" cy="137"/><circle cx="550" cy="210"/><circle cx="560" cy="210"/>
<path d="M646 130V150M631 150h30V175h-30ZM631 162h30M646 175V197M638 130h16M638 197h16"/><circle cx="647" cy="55"/><circle cx="628" cy="110"/><circle cx="652" cy="110"/><circle cx="625" cy="205"/><circle cx="650" cy="205"/><circle cx="646" cy="222"/></g>
<path class="l" d="M340 105H382M433 85H475M522 105H565M610 40H650"/><text class="A" x="362" y="112">****</text><text class="A" x="455" y="92">****</text><text class="A" x="545" y="109">****</text><text class="A" x="630" y="43">****</text>
<text class="X" x="360" y="294">AMG</text><text class="X" x="447" y="294">Hip</text><text class="X" x="540" y="294">Th</text><text class="X" x="628" y="294">PiC</text><text class="I" transform="translate(288,155) rotate(-90)">Intensity</text>
</g>

<!-- J, K -->
<g transform="translate(350,335) scale(.33333)">
<text class="L" x="328" y="10">K</text><text class="L" x="92" y="386">N</text>
<text class="T" x="502" y="24">PG (36:4)</text>
<text class="R" transform="translate(382,95) rotate(-90)">Control</text><text class="R" transform="translate(382,228) rotate(-90)">Depressed</text>
<text class="S" x="495" y="325">Section 8</text>
<path class="x" d="M-38 38V275H295M-45 38h7M-45 117h7M-45 196h7M-45 275h7M-2 275v6M85 275v6M172 275v6M257 275v6"/>
<text class="Y" x="-47" y="43">3</text><text class="Y" x="-47" y="122">2</text><text class="Y" x="-47" y="201">1</text><text class="Y" x="-47" y="280">0</text>
<g class="b"><path d="M-10 205V230M-24 230H4V262H-24ZM-24 240H4M-10 262V272M-18 205H-2M-18 272H-2"/><circle cx="-17" cy="193"/><circle cx="-15" cy="272"/>
<path d="M68 195V220M54 220h28V241h-28ZM54 230h28M68 241V262M60 195h16M60 262h16"/><circle cx="60" cy="183"/><circle cx="72" cy="183"/><circle cx="60" cy="270"/><circle cx="75" cy="270"/>
<path d="M153 210V232M139 232h28V249h-28ZM139 240h28M153 249V262M145 210h16M145 262h16"/><circle cx="153" cy="197"/><circle cx="148" cy="265"/><circle cx="158" cy="265"/>
<path d="M240 187V213M226 213h28V245h-28ZM226 230h28M240 245V262M232 187h16M232 262h16"/><circle cx="235" cy="175"/><circle cx="245" cy="183"/><circle cx="232" cy="265"/><circle cx="247" cy="265"/></g>
<g class="m"><path d="M18 148V167M4 167h28V195H4ZM4 180h28M18 195V218M10 148h16M10 218h16"/><circle cx="18" cy="115"/><circle cx="18" cy="128"/><circle cx="10" cy="218"/><circle cx="18" cy="243"/><circle cx="18" cy="256"/>
<path d="M104 155V177M89 177h30V200H89ZM89 188h30M104 200V215M96 155h16M96 215h16"/><circle cx="95" cy="140"/><circle cx="112" cy="135"/><circle cx="95" cy="218"/><circle cx="112" cy="218"/><circle cx="104" cy="260"/>
<path d="M190 163V187M175 187h30V208h-30ZM175 198h30M190 208V222M182 163h16M182 222h16"/><circle cx="180" cy="157"/><circle cx="190" cy="157"/><circle cx="200" cy="160"/><circle cx="180" cy="230"/><circle cx="190" cy="235"/><circle cx="200" cy="230"/>
<path d="M275 125V152M260 152h30V180h-30ZM260 165h30M275 180V205M267 125h16M267 205h16"/><circle cx="275" cy="65"/><circle cx="275" cy="100"/><circle cx="268" cy="207"/><circle cx="282" cy="207"/></g>
<path class="l" d="M-20 100H20M65 100H105M152 100H192M235 48H278"/><text class="A" x="0" y="105">****</text><text class="A" x="85" y="105">****</text><text class="A" x="172" y="104">****</text><text class="A" x="256" y="52">****</text>
<text class="X" x="-2" y="302">AMG</text><text class="X" x="85" y="302">Hip</text><text class="X" x="172" y="302">Th</text><text class="X" x="257" y="302">PiC</text><text class="I" transform="translate(-62,155) rotate(-90)">Intensity</text>

<path class="x" d="M663 45V272H1000M656 45h7M656 102h7M656 158h7M656 216h7M656 272h7M712 272v6M795 272v6M880 272v6M962 272v6"/>
<text class="Y" x="654" y="50">4</text><text class="Y" x="654" y="107">3</text><text class="Y" x="654" y="163">2</text><text class="Y" x="654" y="221">1</text><text class="Y" x="654" y="277">0</text>
<g class="b"><path d="M690 135V214M677 214h26V264h-26ZM677 240h26M690 264V270M682 135h16M682 270h16"/><circle cx="690" cy="118"/><circle cx="690" cy="128"/>
<path d="M773 200V227M760 227h26V252h-26ZM760 240h26M773 252V270M765 200h16M765 270h16"/><circle cx="773" cy="172"/>
<path d="M855 145V200M842 200h26V263h-26ZM842 228h26M855 263V270M847 145h16M847 270h16"/><circle cx="858" cy="100"/>
<path d="M940 147V217M927 217h26V270h-26ZM927 265h26M932 147h16"/><circle cx="940" cy="120"/></g>
<g class="m"><path d="M725 145V185M711 185h28V212h-28ZM711 198h28M725 212V257M717 145h16M717 257h16"/><circle cx="725" cy="72"/><path d="M725 97V142" style="stroke-width:14;stroke:#c23a98"/><path d="M716 130H734" style="stroke-width:12;stroke:#c23a98"/>
<path d="M808 128V182M794 182h28V230h-28ZM794 212h28M808 230V270M800 128h16M800 270h16"/><circle cx="808" cy="103"/>
<path d="M892 118V184M878 184h28V233h-28ZM878 217h28M892 233V265M884 118h16M884 265h16"/>
<path d="M975 130V175M961 175h28V206h-28ZM961 190h28M975 206V252M967 130h16M967 252h16"/><circle cx="970" cy="95"/><circle cx="980" cy="95"/><circle cx="975" cy="105"/><circle cx="985" cy="100"/><circle cx="965" cy="98"/><circle cx="965" cy="122"/><circle cx="975" cy="120"/></g>
<path class="l" d="M688 52H732M770 52H812M852 52H895M940 52H985"/><text class="A" x="710" y="55">****</text><text class="A" x="790" y="55">****</text><text class="A" x="873" y="55">****</text><text class="A" x="962" y="55">****</text>
<text class="X" x="712" y="302">Hip</text><text class="X" x="795" y="302">ENT</text><text class="X" x="880" y="302">AMG</text><text class="X" x="962" y="302">SN</text><text class="I" transform="translate(632,160) rotate(-90)">Intensity</text>
</g>

<!-- L, M, O, P -->
<g transform="translate(0,465) scale(.33333)">
<text class="L" x="3" y="392">O</text><text class="L" x="745" y="395">P</text>
<text class="T" x="148" y="40">PE (40:7p)</text><text class="T" x="815" y="40">PE (44:8)</text><text class="T" x="156" y="409">PC (36:2e)</text><text class="T" x="885" y="409">PC (37:3)</text>
<text class="R" transform="translate(45,100) rotate(-90)">Control</text><text class="R" transform="translate(45,232) rotate(-90)">Depressed</text>
<text class="R" transform="translate(695,100) rotate(-90)">Control</text><text class="R" transform="translate(695,232) rotate(-90)">Depressed</text>
<text class="R" transform="translate(45,485) rotate(-90)">Control</text><text class="R" transform="translate(45,615) rotate(-90)">Depressed</text>
<text class="R" transform="translate(778,485) rotate(-90)">Control</text><text class="R" transform="translate(778,615) rotate(-90)">Depressed</text>
<text class="S" x="150" y="328">Section 1</text><text class="S" x="820" y="332">Section 1</text><text class="S" x="150" y="712">Section 3</text><text class="S" x="890" y="712">Section 4</text>
<path class="x" d="M317 42V275H612M310 42h7M310 120h7M310 197h7M310 275h7M362 275v6M464 275v6M565 275v6"/>
<text class="Y" x="308" y="47">3</text><text class="Y" x="308" y="125">2</text><text class="Y" x="308" y="202">1</text><text class="Y" x="308" y="280">0</text>
<g class="b"><path d="M345 95V140M330 140h30V170h-30ZM330 155h30M345 170V210M337 95h16M337 210h16"/><circle cx="347" cy="85"/><circle cx="335" cy="218"/><circle cx="350" cy="218"/><circle cx="357" cy="218"/><circle cx="345" cy="235"/><circle cx="350" cy="245"/><circle cx="340" cy="250"/><circle cx="345" cy="262"/><circle cx="355" cy="258"/>
<path d="M444 97V131M429 131h30V156h-30ZM429 143h30M444 156V190M436 97h16M436 190h16"/><circle cx="445" cy="88"/><circle cx="430" cy="200"/><circle cx="440" cy="205"/><circle cx="450" cy="208"/><circle cx="458" cy="210"/><circle cx="445" cy="240"/>
<path d="M543 92V132M528 132h30V161h-30ZM528 146h30M543 161V207M535 92h16M535 207h16"/><circle cx="538" cy="83"/><circle cx="550" cy="80"/><circle cx="530" cy="220"/><circle cx="545" cy="222"/><circle cx="555" cy="222"/><circle cx="530" cy="235"/><circle cx="545" cy="240"/><circle cx="555" cy="237"/><circle cx="535" cy="262"/><circle cx="548" cy="270"/></g>
<g class="m"><path d="M387 195V238M371 238h32V265h-32ZM371 250h32M387 265V272M379 195h16M379 272h16"/><circle cx="387" cy="182"/>
<path d="M487 193V224M472 224h30V247h-30ZM472 235h30M487 247V265M479 193h16M479 265h16"/>
<path d="M586 180V218M570 218h32V241h-32ZM570 229h32M586 241V267M578 180h16M578 267h16"/></g>
<path class="l" d="M348 62H392M450 62H495M545 62H590"/><text class="A" x="370" y="64">****</text><text class="A" x="473" y="64">****</text><text class="A" x="568" y="64">****</text>
<text class="X" x="362" y="309">mPFC</text><text class="X" x="464" y="309">IC</text><text class="X" x="565" y="309">OFC</text><text class="I" transform="translate(282,165) rotate(-90)">Intensity</text>

<path class="x" d="M975 62V288H1100M968 62h7M968 137h7M968 212h7M968 288h7M1037 288v6"/>
<text class="Y" x="966" y="67">1.5</text><text class="Y" x="966" y="142">1.0</text><text class="Y" x="966" y="217">0.5</text><text class="Y" x="966" y="293">0.0</text>
<g class="b"><path d="M1015 115V155M998 155h34V185h-34ZM998 168h34M1015 185V220M1007 115h16M1007 220h16"/><circle cx="1015" cy="233" style="opacity:.5"/><circle cx="1015" cy="258" style="opacity:.5"/></g>
<g class="m"><path d="M1065 204V237M1048 237h34V258h-34ZM1048 248h34M1065 258V280M1057 204h16M1057 280h16"/></g>
<path class="l" d="M1020 100H1062"/><text class="A" x="1040" y="103">****</text>
<text class="X" x="1037" y="318">IC</text><text class="I" transform="translate(933,175) rotate(-90)">Intensity</text>

<path class="x" d="M352 446V667H682M345 446h7M345 490h7M345 534h7M345 578h7M345 622h7M345 667h7M392 667v6M480 667v6M558 667v6M645 667v6"/>
<text class="Y" x="343" y="451">10</text><text class="Y" x="343" y="495">8</text><text class="Y" x="343" y="539">6</text><text class="Y" x="343" y="583">4</text><text class="Y" x="343" y="627">2</text><text class="Y" x="343" y="672">0</text>
<g class="b"><path d="M380 472V513M367 513h26V534h-26ZM367 522h26M380 534V575M372 472h16M372 575h16"/><circle cx="381" cy="460"/><circle cx="381" cy="470"/><circle cx="370" cy="578"/><circle cx="385" cy="580"/><circle cx="375" cy="590"/><circle cx="385" cy="595"/><circle cx="380" cy="608"/>
<path d="M463 497V525M450 525h26V555h-26ZM450 535h26M463 555V605M455 497h16M455 605h16"/><circle cx="460" cy="610"/><circle cx="470" cy="608"/><circle cx="455" cy="625"/><circle cx="465" cy="630"/><circle cx="460" cy="650"/><circle cx="470" cy="655"/><circle cx="455" cy="662"/><circle cx="465" cy="664"/>
<path d="M543 483V515M530 515h26V535h-26ZM530 522h26M543 535V565M535 483h16M535 565h16"/><circle cx="545" cy="472"/><circle cx="535" cy="578"/><circle cx="548" cy="578"/><circle cx="535" cy="595"/><circle cx="550" cy="592"/>
<path d="M624 465V503M611 503h26V525h-26ZM611 514h26M624 525V567M616 465h16M616 567h16"/><circle cx="625" cy="462"/><circle cx="625" cy="568"/></g>
<g class="m"><path d="M415 492V582M401 582h28V660h-28ZM401 625h28M415 660V665M407 492h16M407 665h16"/>
<path d="M497 515V590M483 590h28V665h-28ZM483 638h28M489 515h16"/>
<path d="M577 508V592M563 592h28V660h-28ZM563 647h28M577 660V667M569 508h16M569 667h16"/>
<path d="M659 465V563M645 563h28V660h-28ZM645 620h28M659 660V665M651 465h16M651 665h16"/></g>
<path class="l" d="M380 448H418M458 483H498M540 448H580M625 448H665"/><text class="A" x="400" y="450">****</text><text class="A" x="478" y="487">****</text><text class="A" x="562" y="450">****</text><text class="A" x="645" y="450">****</text>
<text class="X" x="392" y="697">ACC</text><text class="X" x="480" y="697">NAc</text><text class="X" x="558" y="697">PiC</text><text class="X" x="645" y="697">IC</text><text class="I" transform="translate(315,555) rotate(-90)">Intensity</text>
</g>

<!-- N, TG, colorbar, legend -->
<g transform="translate(350,470) scale(.33333)">
<text class="T" x="250" y="25">PC (35:1)</text><text class="T" x="445" y="25">PE (36:5)</text><text class="T" x="105" y="397">TG (48:2)</text>
<text class="R" transform="translate(147,85) rotate(-90)">Control</text><text class="R" transform="translate(147,215) rotate(-90)">Depressed</text>
<text class="S" x="250" y="317">Section 1</text><text class="S" x="443" y="317">Section 1</text><text class="S" x="108" y="697">Section 4</text>
<path class="x" d="M600 27V260H832M593 27h7M593 103h7M593 183h7M593 260h7M665 260v6M772 260v6"/>
<text class="Y" x="591" y="32">1.5</text><text class="Y" x="591" y="108">1.0</text><text class="Y" x="591" y="188">0.5</text><text class="Y" x="591" y="265">0.0</text>
<g class="b"><path d="M648 105V138M631 138h34V163h-34ZM631 150h34M648 163V205M640 105h16M640 205h16" style="stroke-width:4"/><circle cx="647" cy="97"/><circle cx="635" cy="210"/><circle cx="650" cy="210"/><circle cx="660" cy="207"/><circle cx="645" cy="225"/><circle cx="640" cy="235"/><circle cx="655" cy="235"/><circle cx="648" cy="248"/><circle cx="635" cy="218"/>
<path d="M753 205V216M736 216h34V226h-34ZM736 221h34M753 226V237M745 205h16M745 237h16" style="stroke-width:4"/><circle cx="753" cy="197"/><circle cx="740" cy="242"/><circle cx="750" cy="245"/><circle cx="762" cy="242"/></g>
<g class="m"><path d="M692 187V219M675 219h34V238h-34ZM675 228h34M692 238V258M684 187h16M684 258h16"/><circle cx="692" cy="187"/>
<path d="M798 225V244M781 244h34V250h-34ZM781 247h34M798 250V258M790 225h16M790 258h16" style="stroke-width:4"/><circle cx="785" cy="228"/><circle cx="795" cy="228"/><circle cx="805" cy="225"/><circle cx="812" cy="220"/><circle cx="790" cy="235"/></g>
<path class="l" d="M652 78H695M755 180H797"/><text class="A" x="672" y="80">****</text><text class="A" x="776" y="182">****</text>
<text class="X" x="662" y="297">mPFC</text><text class="X" x="662" y="322">PC (35:1)</text><text class="X" x="770" y="297">mPFC</text><text class="X" x="772" y="322">PE (36:5)</text>
<text class="I" transform="translate(563,145) rotate(-90)">Intensity</text>
<rect x="287" y="410" width="13" height="250" fill="url(#cb)"/>
<text class="X" x="297" y="401">100%</text><text class="X" x="295" y="686">0%</text>
<rect x="371" y="395" width="17" height="17" fill="none" stroke="#3a4cc4" stroke-width="3"/>
<rect x="371" y="425" width="17" height="17" fill="none" stroke="#b5328f" stroke-width="3"/>
<text style="font-size:24px;text-anchor:start" x="396" y="412">Control</text><text style="font-size:24px;text-anchor:start" x="396" y="442">Depressed</text>
</g>
</svg>
</body></html>
